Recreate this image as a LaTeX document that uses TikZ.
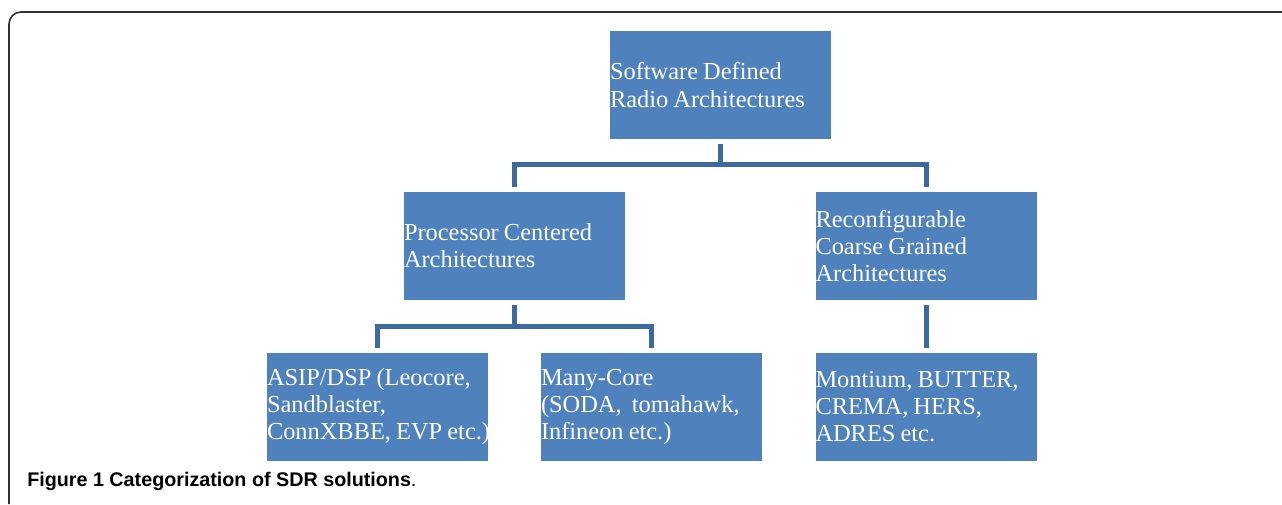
\documentclass[tikz,border=0pt]{standalone}
\usepackage{fontspec}
\setmainfont{Liberation Serif}
\newfontfamily\capfont{Liberation Sans}
\newcommand\boxfont{\fontsize{18.3}{20.3}\selectfont\spaceskip=0.21em plus 0.05em\relax}
\definecolor{boxblue}{HTML}{4F81BD}
\definecolor{linkblue}{HTML}{3C6A9E}
\tikzset{
  archbox/.style={fill=boxblue, text=white, minimum width=165.75pt, text width=165.75pt,
    minimum height=81pt, inner xsep=0pt, outer sep=4pt, align=left,
    execute at begin node=\boxfont},
  conn/.style={draw=linkblue, line width=3.75pt},
  frame/.style={draw=black!80, line width=1.2pt, rounded corners=9pt}
}
\begin{document}
\begin{tikzpicture}[x=0.75pt, y=-0.75pt]
  \useasboundingbox (0,0) rectangle (1282,504);
  \draw[frame] (1282,12) -| (9,504);

  % boxes
  \node[archbox] (sdr)  at (720.5,85)  {Software Defined\\Radio Architectures};
  \node[archbox] (proc) at (514.5,246) {Processor Centered\\Architectures};
  \node[archbox] (rcg)  at (926,246)   {Reconfigurable\\Coarse Grained\\Architectures};
  \node[archbox] (asip) at (377.5,407) {ASIP/DSP (Leocore,\\Sandblaster,\\ConnXBBE,~EVP~etc.)};
  \node[archbox] (many) at (651.5,407) {Many-Core\\(SODA,\ \ tomahawk,\\Infineon etc.)};
  \node[archbox] (mont) at (926,407)   {Montium, BUTTER,\\CREMA, HERS,\\ADRES etc.};

  % links
  \draw[conn] (sdr.south) -- ++(0,20) coordinate (j1);
  \draw[conn] (proc.north) |- (j1) -| (rcg.north);
  \draw[conn] (proc.south) -- ++(0,21) coordinate (j2);
  \draw[conn] (asip.north) |- (j2) -| (many.north);
  \draw[conn] (rcg.south) -- (mont.north);

  \node[anchor=base west, inner sep=0pt, font=\capfont\fontsize{14.8}{18}\selectfont]
    (cap) at (27,486) {\textbf{Figure 1 Categorization of SDR solutions}.};
\end{tikzpicture}
\end{document}
